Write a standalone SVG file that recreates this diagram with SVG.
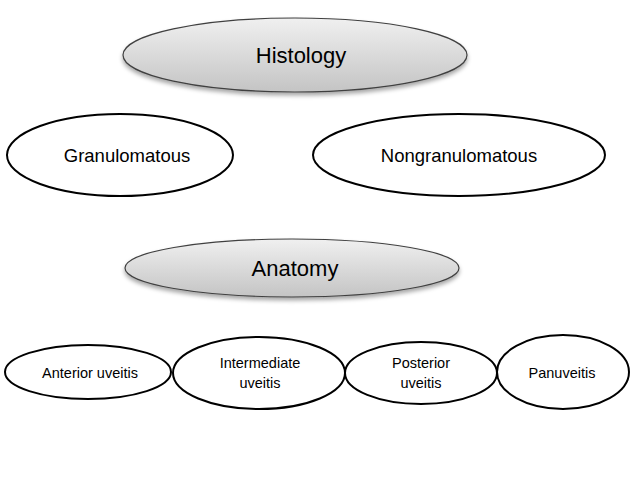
<svg xmlns="http://www.w3.org/2000/svg" width="638" height="479" viewBox="0 0 638 479">
<defs>
<linearGradient id="g" x1="0" y1="0" x2="0" y2="1">
<stop offset="0" stop-color="#f0f0f0"/>
<stop offset="1" stop-color="#c4c4c4"/>
</linearGradient>
<filter id="sh" x="-10%" y="-20%" width="120%" height="150%">
<feDropShadow dx="0" dy="3" stdDeviation="2" flood-color="#000" flood-opacity="0.35"/>
</filter>
</defs>
<style>
.hd{fill:url(#g);stroke:#404040;stroke-width:1.2;filter:url(#sh)}
.nd{fill:#fff;stroke:#000;stroke-width:2}
text{font-family:"Liberation Sans",Arial,sans-serif;fill:#000;text-anchor:middle}
.big{font-size:22px}
.mid{font-size:18.5px}
.sm{font-size:14.5px}
</style>
<rect width="638" height="479" fill="#fff"/>
<g id="connectors"></g>
<g id="histology">
<ellipse class="hd" cx="295" cy="55" rx="172" ry="37"/>
<text class="big" x="301" y="63">Histology</text>
</g>
<g id="granulomatous">
<ellipse class="nd" cx="120" cy="155" rx="113" ry="41"/>
<text class="mid" x="127" y="162">Granulomatous</text>
</g>
<g id="nongranulomatous">
<ellipse class="nd" cx="459" cy="155" rx="146" ry="41"/>
<text class="mid" x="459" y="162">Nongranulomatous</text>
</g>
<g id="anatomy">
<ellipse class="hd" cx="292" cy="268" rx="167" ry="29"/>
<text class="big" x="295" y="276">Anatomy</text>
</g>
<g id="anterior">
<ellipse class="nd" cx="88" cy="372" rx="83" ry="27"/>
<text class="sm" x="90" y="378">Anterior uveitis</text>
</g>
<g id="intermediate">
<ellipse class="nd" cx="259" cy="373" rx="86" ry="36"/>
<text class="sm" x="260" y="368">Intermediate</text>
<text class="sm" x="260" y="388">uveitis</text>
</g>
<g id="posterior">
<ellipse class="nd" cx="421" cy="373" rx="76" ry="31"/>
<text class="sm" x="421" y="368">Posterior</text>
<text class="sm" x="421" y="388">uveitis</text>
</g>
<g id="panuveitis">
<ellipse class="nd" cx="563" cy="372" rx="66" ry="37"/>
<text class="sm" x="562" y="378">Panuveitis</text>
</g>
</svg>
